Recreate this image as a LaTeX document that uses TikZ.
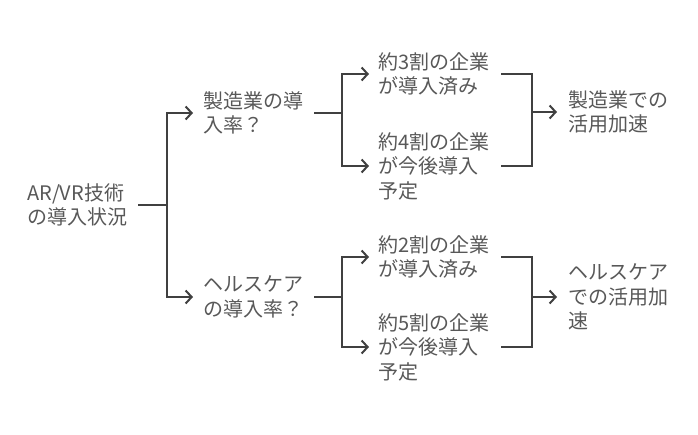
\documentclass[tikz,border=0pt]{standalone}
\usepackage{fontspec}
\setmainfont{Noto Sans CJK JP}
\usetikzlibrary{arrows.meta}
\definecolor{txt}{HTML}{585858}
\definecolor{ln}{HTML}{404040}
\begin{document}
\begin{tikzpicture}[x=1pt,y=-1pt,
 lbl/.style={anchor=west,align=left,text=txt,font=\fontsize{20}{24.5}\selectfont,inner ysep=0pt},
 conn/.style={draw=ln,line width=2pt},
 arr/.style={conn,-{Straight Barb[length=6pt,width=13pt,line width=2pt]}}]
\useasboundingbox (0,0) rectangle (698,434);
\node[lbl,inner xsep=11pt,text width=100pt] (root) at (16,205) {AR/VR技術\\の導入状況};
\node[lbl,inner xsep=10pt,text width=101pt] (m1) at (193,113) {製造業の導\\入率？};
\node[lbl,inner xsep=10pt,text width=101pt] (m2) at (193,297) {ヘルスケア\\の導入率？};
\node[lbl,inner xsep=9pt,text width=114pt] (a1) at (369,74) {約3割の企業\\が導入済み};
\node[lbl,inner xsep=9pt,text width=114pt] (a2) at (369,166) {約4割の企業\\が今後導入\\予定};
\node[lbl,inner xsep=9pt,text width=114pt] (b1) at (369,257) {約2割の企業\\が導入済み};
\node[lbl,inner xsep=9pt,text width=114pt] (b2) at (369,347) {約5割の企業\\が今後導入\\予定};
\node[lbl,inner xsep=11pt,text width=110pt] (t1) at (557,112) {製造業での\\活用加速};
\node[lbl,inner xsep=11pt,text width=110pt] (t2) at (557,297) {ヘルスケア\\での活用加\\速};
\coordinate (j0) at (167,205);
\coordinate (j1) at (342,113);
\coordinate (j2) at (342,297);
\coordinate (k1) at (532,112);
\coordinate (k2) at (532,297);
\draw[conn] (root.east) -- (j0);
\draw[arr] (j0) |- (m1.west);
\draw[arr] (j0) |- (m2.west);
\draw[conn] (m1.east) -- (j1);
\draw[arr] (j1) |- (a1.west);
\draw[arr] (j1) |- (a2.west);
\draw[conn] (m2.east) -- (j2);
\draw[arr] (j2) |- (b1.west);
\draw[arr] (j2) |- (b2.west);
\draw[conn] (a1.east) -| (k1);
\draw[conn] (a2.east) -| (k1);
\draw[arr] (k1) -- (t1.west);
\draw[conn] (b1.east) -| (k2);
\draw[conn] (b2.east) -| (k2);
\draw[arr] (k2) -- (t2.west);
\end{tikzpicture}
\end{document}
